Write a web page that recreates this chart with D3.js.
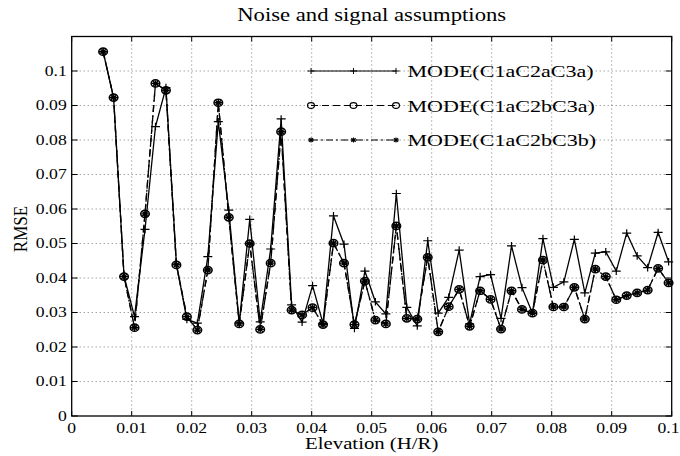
<!DOCTYPE html>
<svg width="680" height="456"></svg>
<script src="https://d3js.org/d3.v7.min.js"></script>
<style>
  body { margin: 0; background: #fff; }
  text { font-family: "Liberation Serif", "Times New Roman", serif; fill: #000; }
  .grid line { stroke: #555; stroke-width: 0.8px; stroke-dasharray: 1,3; }
  .series { fill: none; stroke: #000; stroke-width: 1.3px; }
</style>
<script>
// elevation in radians (0.3 deg .. 5.7 deg)
var elevation = [0.005236, 0.006981, 0.008727, 0.010472, 0.012217, 0.013963, 0.015708, 0.017453, 0.019199, 0.020944,
  0.022689, 0.024435, 0.026180, 0.027925, 0.029671, 0.031416, 0.033161, 0.034907, 0.036652, 0.038397,
  0.040143, 0.041888, 0.043633, 0.045379, 0.047124, 0.048869, 0.050615, 0.052360, 0.054105, 0.055851,
  0.057596, 0.059341, 0.061087, 0.062832, 0.064577, 0.066323, 0.068068, 0.069813, 0.071558, 0.073304,
  0.075049, 0.076794, 0.078540, 0.080285, 0.082030, 0.083776, 0.085521, 0.087266, 0.089012, 0.090757,
  0.092502, 0.094248, 0.095993, 0.097738, 0.099484];

var rmseA = [0.1056, 0.0923, 0.0405, 0.0288, 0.0541, 0.0839, 0.0952, 0.0440, 0.0280, 0.0269,
  0.0462, 0.0853, 0.0597, 0.0270, 0.0570, 0.0273, 0.0484, 0.0861, 0.0322, 0.0272,
  0.0378, 0.0268, 0.0580, 0.0498, 0.0254, 0.0420, 0.0331, 0.0296, 0.0645, 0.0315,
  0.0261, 0.0508, 0.0298, 0.0344, 0.0481, 0.0267, 0.0404, 0.0410, 0.0283, 0.0493,
  0.0372, 0.0298, 0.0514, 0.0373, 0.0389, 0.0512, 0.0357, 0.0472, 0.0476, 0.0420,
  0.0530, 0.0464, 0.0430, 0.0532, 0.0447];

var rmseB = [0.1056, 0.0923, 0.0404, 0.0256, 0.0586, 0.0964, 0.0944, 0.0438, 0.0288, 0.0249,
  0.0423, 0.0908, 0.0576, 0.0267, 0.0500, 0.0251, 0.0443, 0.0824, 0.0307, 0.0293,
  0.0314, 0.0265, 0.0501, 0.0443, 0.0265, 0.0391, 0.0278, 0.0267, 0.0551, 0.0283,
  0.0281, 0.0460, 0.0244, 0.0317, 0.0367, 0.0260, 0.0363, 0.0338, 0.0252, 0.0363,
  0.0309, 0.0298, 0.0452, 0.0316, 0.0316, 0.0373, 0.0281, 0.0426, 0.0404, 0.0337,
  0.0349, 0.0357, 0.0365, 0.0428, 0.0386];

var rmseC = [0.1056, 0.0923, 0.0404, 0.0256, 0.0586, 0.0964, 0.0944, 0.0438, 0.0288, 0.0249,
  0.0423, 0.0908, 0.0576, 0.0267, 0.0500, 0.0251, 0.0443, 0.0824, 0.0307, 0.0293,
  0.0314, 0.0265, 0.0501, 0.0443, 0.0265, 0.0391, 0.0278, 0.0267, 0.0551, 0.0283,
  0.0281, 0.0460, 0.0244, 0.0317, 0.0367, 0.0260, 0.0363, 0.0338, 0.0252, 0.0363,
  0.0309, 0.0298, 0.0452, 0.0316, 0.0316, 0.0373, 0.0281, 0.0426, 0.0404, 0.0337,
  0.0349, 0.0357, 0.0365, 0.0428, 0.0386];

var seriesNames = ["MODE(C1aC2aC3a)", "MODE(C1aC2bC3a)", "MODE(C1aC2bC3b)"];
var xTicks = [0, 0.01, 0.02, 0.03, 0.04, 0.05, 0.06, 0.07, 0.08, 0.09, 0.1];
var yTicks = [0, 0.01, 0.02, 0.03, 0.04, 0.05, 0.06, 0.07, 0.08, 0.09, 0.1];

var svg = d3.select("svg"),
    margin = {top: 36.5, right: 8.3, bottom: 40, left: 71.7},
    width = +svg.attr("width") - margin.left - margin.right,
    height = +svg.attr("height") - margin.top - margin.bottom,
    g = svg.append("g").attr("transform", "translate(" + margin.left + "," + margin.top + ")");

var stretch = 1.26; // the picture's text is wider than tall

var x = d3.scaleLinear().domain([0, 0.1]).range([0, width]);
var y = d3.scaleLinear().domain([0, 0.11]).range([height, 0]);

// grid
var grid = g.append("g").attr("class", "grid");
grid.selectAll(".gx").data(xTicks.slice(1, -1)).enter().append("line")
    .attr("x1", function(d) { return x(d); }).attr("x2", function(d) { return x(d); })
    .attr("y1", 0).attr("y2", height);
grid.selectAll(".gy").data(yTicks.slice(1)).enter().append("line")
    .attr("x1", 0).attr("x2", width)
    .attr("y1", function(d) { return y(d); }).attr("y2", function(d) { return y(d); });

// box + inward ticks
g.append("rect").attr("width", width).attr("height", height)
    .attr("fill", "none").attr("stroke", "#000").attr("stroke-width", 1.3);

var ticks = g.append("g").attr("stroke", "#000").attr("stroke-width", 1);
xTicks.forEach(function(t) {
  ticks.append("line").attr("x1", x(t)).attr("x2", x(t)).attr("y1", height).attr("y2", height - 5);
  ticks.append("line").attr("x1", x(t)).attr("x2", x(t)).attr("y1", 0).attr("y2", 5);
});
yTicks.forEach(function(t) {
  ticks.append("line").attr("x1", 0).attr("x2", 6).attr("y1", y(t)).attr("y2", y(t));
  ticks.append("line").attr("x1", width).attr("x2", width - 6).attr("y1", y(t)).attr("y2", y(t));
});

function stretchedText(parent, px, py, str, size, anchor) {
  return parent.append("text")
      .attr("transform", "translate(" + px + "," + py + ") scale(" + stretch + ",1)")
      .attr("text-anchor", anchor)
      .style("font-size", size + "px")
      .text(str);
}

// tick labels (last one kept inside the page edge)
xTicks.forEach(function(t, i) {
  if (i === xTicks.length - 1) {
    stretchedText(g, width + margin.right - 0.5, height + 16.5, String(t), 14, "end");
  } else {
    stretchedText(g, x(t), height + 16.5, String(t), 14, "middle");
  }
});
yTicks.forEach(function(t) {
  stretchedText(g, -5, y(t) + 4.5, String(t), 14, "end");
});

// titles
stretchedText(svg, margin.left + width / 2, 21, "Noise and signal assumptions", 18, "middle");
stretchedText(svg, margin.left + width / 2, 449, "Elevation (H/R)", 16.5, "middle");
svg.append("text")
    .attr("transform", "translate(27,229) rotate(-90) scale(1,1.1)")
    .attr("text-anchor", "middle")
    .style("font-size", "17px")
    .text("RMSE");

// markers
function plusMarker(sel) {
  sel.append("path").attr("d", "M-4.5,0H4.5M0,-3.8V3.8")
      .attr("stroke", "#000").attr("stroke-width", 1.2).attr("fill", "none");
}
function circleMarker(sel) {
  sel.append("ellipse").attr("rx", 4.3).attr("ry", 3.6)
      .attr("stroke", "#000").attr("stroke-width", 1.5).attr("fill", "none");
}
function starMarker(sel) {
  sel.append("path").attr("d", "M-3.8,0H3.8M0,-3.2V3.2M-2.7,-2.3L2.7,2.3M-2.7,2.3L2.7,-2.3")
      .attr("stroke", "#000").attr("stroke-width", 1.4).attr("fill", "none");
}

var series = [
  {name: seriesNames[0], values: rmseA, dash: null, marker: plusMarker},
  {name: seriesNames[1], values: rmseB, dash: "7,4", marker: circleMarker},
  {name: seriesNames[2], values: rmseC, dash: "7,3,2,3", marker: starMarker}
];

var line = d3.line()
    .x(function(d) { return x(d[0]); })
    .y(function(d) { return y(d[1]); });

series.slice().reverse().forEach(function(s) {
  var pts = elevation.map(function(e, i) { return [e, s.values[i]]; });
  g.append("path").datum(pts).attr("class", "series")
      .attr("stroke-dasharray", s.dash)
      .attr("d", line);
  g.append("g").selectAll("g").data(pts).enter().append("g")
      .attr("transform", function(d) { return "translate(" + x(d[0]) + "," + y(d[1]) + ")"; })
      .each(function() { s.marker(d3.select(this)); });
});

// legend (drawn in the plot group, placed on the 0.1 / 0.09 / 0.08 grid rows)
var legendRows = [0.1, 0.09, 0.08];
var lx0 = 311 - margin.left, lx1 = 396 - margin.left;
series.forEach(function(s, i) {
  var ly = y(legendRows[i]);
  var lg = g.append("g");
  lg.append("line").attr("x1", lx0).attr("x2", lx1).attr("y1", ly).attr("y2", ly)
      .attr("stroke", "#000").attr("stroke-width", 1.2).attr("stroke-dasharray", s.dash);
  [lx0, (lx0 + lx1) / 2, lx1].forEach(function(mx) {
    s.marker(lg.append("g").attr("transform", "translate(" + mx + "," + ly + ") scale(0.8)"));
  });
  stretchedText(lg, lx1 + 11.5, ly + 6, s.name, 17.5, "start");
});
</script>
